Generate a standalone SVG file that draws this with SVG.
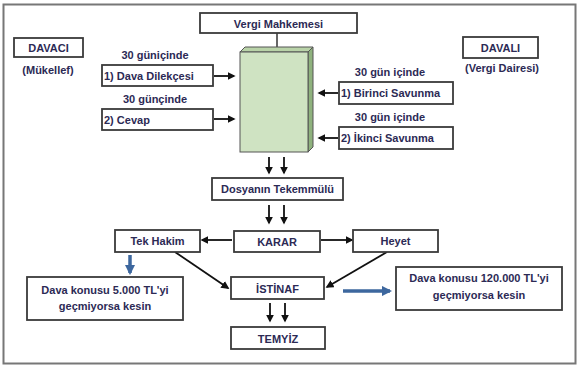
<svg xmlns="http://www.w3.org/2000/svg" width="579" height="366" viewBox="0 0 579 366">
<defs>
<style>
.box{fill:#fff;stroke:#3a3a3a;stroke-width:1.8}
.t{font-family:"Liberation Sans",Arial,sans-serif;font-weight:bold;font-size:11px;fill:#2c2a55}
.c{text-anchor:middle}
.ln{stroke:#111;stroke-width:1.8;fill:none}
.bl{stroke:#3d679e;stroke-width:3.5;fill:none}
</style>
<marker id="ah" viewBox="0 0 10 10" refX="8" refY="5" markerWidth="4.5" markerHeight="4.5" orient="auto-start-reverse" markerUnits="strokeWidth">
<path d="M0,0 L10,5 L0,10 z" fill="#111"/>
</marker>
<marker id="ab" viewBox="0 0 10 10" refX="8" refY="5" markerWidth="3" markerHeight="3" orient="auto" markerUnits="strokeWidth">
<path d="M0,0 L10,5 L0,10 z" fill="#3d679e"/>
</marker>
</defs>
<rect x="0" y="0" width="579" height="366" fill="#fff"/>
<rect x="3.5" y="4.5" width="572" height="359" fill="none" stroke="#777" stroke-width="2"/>

<g id="connectors">
<line x1="277" y1="33" x2="277" y2="47" stroke="#333" stroke-width="1.5"/>
<line class="ln" x1="214" y1="76" x2="234" y2="76" marker-end="url(#ah)"/>
<line class="ln" x1="214" y1="119" x2="234" y2="119" marker-end="url(#ah)"/>
<line class="ln" x1="338" y1="93" x2="319" y2="93" marker-end="url(#ah)"/>
<line class="ln" x1="338" y1="138" x2="319" y2="138" marker-end="url(#ah)"/>
<line class="ln" x1="269" y1="157" x2="269" y2="173" marker-end="url(#ah)"/>
<line class="ln" x1="284" y1="157" x2="284" y2="173" marker-end="url(#ah)"/>
<line class="ln" x1="269" y1="205" x2="269" y2="223" marker-end="url(#ah)"/>
<line class="ln" x1="284" y1="205" x2="284" y2="223" marker-end="url(#ah)"/>
<line class="ln" x1="232" y1="240" x2="202" y2="240" marker-end="url(#ah)"/>
<line class="ln" x1="321" y1="240" x2="352" y2="240" marker-end="url(#ah)"/>
<line class="ln" x1="175" y1="252" x2="228" y2="288" marker-end="url(#ah)"/>
<line class="ln" x1="387" y1="252" x2="327" y2="287" marker-end="url(#ah)"/>
<line class="ln" x1="270" y1="303" x2="270" y2="321" marker-end="url(#ah)"/>
<line class="ln" x1="285" y1="303" x2="285" y2="321" marker-end="url(#ah)"/>
<line class="bl" x1="130" y1="255" x2="130" y2="273" marker-end="url(#ab)"/>
<line class="bl" x1="343" y1="291" x2="390" y2="291" marker-end="url(#ab)"/>
</g>

<g id="vergi-mahkemesi">
<rect class="box" x="200" y="13" width="157" height="20"/>
<text class="t c" x="278.5" y="28" font-size="13">Vergi Mahkemesi</text>
</g>

<g id="dosya-blok">
<polygon points="240,52 245,47 313,47 308,52" fill="#b9d3a8" stroke="#555" stroke-width="1"/>
<polygon points="308,52 313,47 313,147 308,152" fill="#8fb27e" stroke="#555" stroke-width="1"/>
<rect x="240" y="52" width="68" height="100" fill="#cfe3c2" stroke="#555" stroke-width="1"/>
</g>

<g id="davaci">
<rect class="box" x="14" y="38" width="69" height="19"/>
<text class="t c" x="48.5" y="52" font-size="12.5">DAVACI</text>
<text class="t c" x="48" y="74">(Mükellef)</text>
</g>

<g id="dava-dilekcesi">
<text class="t c" x="155" y="59">30 güniçinde</text>
<rect class="box" x="102" y="65" width="111" height="21"/>
<text class="t" x="104" y="79.5" font-size="11.5">1) Dava Dilekçesi</text>
</g>

<g id="cevap">
<text class="t c" x="155" y="103">30 günçinde</text>
<rect class="box" x="102" y="109" width="111" height="21"/>
<text class="t" x="104" y="123.5" font-size="11.5">2) Cevap</text>
</g>

<g id="davali">
<rect class="box" x="463" y="37" width="75" height="21"/>
<text class="t c" x="500.5" y="52" font-size="12.5">DAVALI</text>
<text class="t c" x="502" y="72">(Vergi Dairesi)</text>
</g>

<g id="birinci-savunma">
<text class="t c" x="390" y="76">30 gün içinde</text>
<rect class="box" x="339" y="82" width="114" height="22"/>
<text class="t" x="341" y="97" font-size="11.5">1) Birinci Savunma</text>
</g>

<g id="ikinci-savunma">
<text class="t c" x="390" y="121">30 gün içinde</text>
<rect class="box" x="339" y="127" width="114" height="22"/>
<text class="t" x="341" y="142" font-size="11.5">2) İkinci Savunma</text>
</g>

<g id="dosyanin-tekemmulu">
<rect class="box" x="212" y="178" width="131" height="22"/>
<text class="t c" x="277.5" y="193" font-size="11.5">Dosyanın Tekemmülü</text>
</g>

<g id="karar">
<rect class="box" x="234" y="231" width="86" height="21"/>
<text class="t c" x="277" y="246" font-size="12.5">KARAR</text>
</g>

<g id="tek-hakim">
<rect class="box" x="115" y="230" width="85" height="22"/>
<text class="t c" x="157.5" y="245" font-size="11.5">Tek Hakim</text>
</g>

<g id="heyet">
<rect class="box" x="353" y="230" width="85" height="22"/>
<text class="t c" x="395.5" y="245" font-size="11.5">Heyet</text>
</g>

<g id="istinaf">
<rect class="box" x="231" y="277" width="93" height="22"/>
<text class="t c" x="277.5" y="292.5" font-size="12.5">İSTİNAF</text>
</g>

<g id="temyiz">
<rect class="box" x="231" y="327" width="94" height="22"/>
<text class="t c" x="278" y="342.5" font-size="12.5">TEMYİZ</text>
</g>

<g id="kesin-5000">
<rect class="box" x="27" y="277" width="156" height="43"/>
<text class="t c" x="105" y="294" font-size="11.5">Dava konusu 5.000 TL'yi</text>
<text class="t c" x="105" y="310" font-size="11.5">geçmiyorsa kesin</text>
</g>

<g id="kesin-120000">
<rect class="box" x="396" y="267" width="166" height="43"/>
<text class="t c" x="479" y="282" font-size="11.5">Dava konusu 120.000 TL'yi</text>
<text class="t c" x="479" y="299" font-size="11.5">geçmiyorsa kesin</text>
</g>
</svg>
